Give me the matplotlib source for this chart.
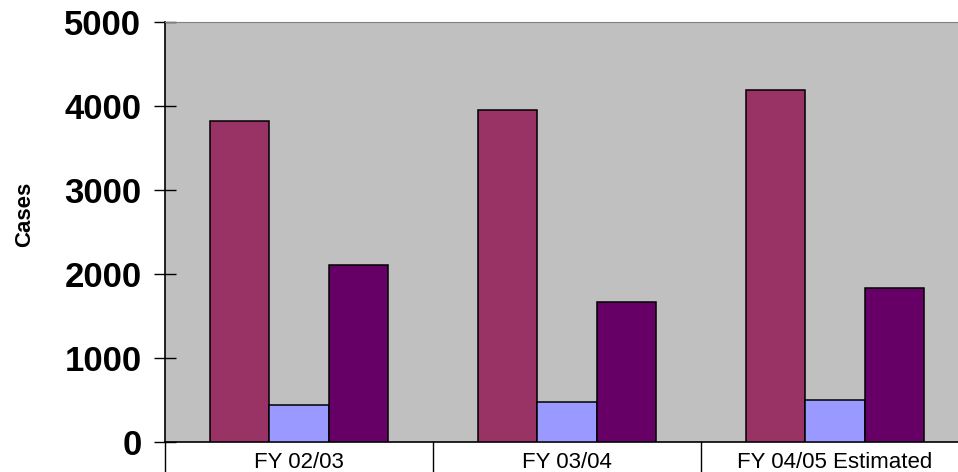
import numpy as np
import matplotlib
matplotlib.use("Agg")
import matplotlib.pyplot as plt
import matplotlib.transforms as mtransforms

plt.rcParams['font.family'] = ['Liberation Sans', 'DejaVu Sans']

categories = ['FY 02/03', 'FY 03/04', 'FY 04/05 Estimated']
series_a = [3825, 3952, 4190]
series_b = [444, 476, 500]
series_c = [2103, 1667, 1837]
yticks = [0, 1000, 2000, 3000, 4000, 5000]

colors = ['#993366', '#9999FF', '#660066']
W, H = 958, 472

fig = plt.figure(figsize=(W / 100, H / 100), dpi=100)
# plot area runs past the right edge of the picture (cropped original)
ax = fig.add_axes([165 / W, 30 / H, 804 / W, 420 / H])
ax.set_facecolor('#C0C0C0')

bw = 0.222
x = np.arange(len(categories)) + 0.5
for k, vals in enumerate([series_a, series_b, series_c]):
    ax.bar(x + (k - 1) * bw, vals, width=bw, color=colors[k],
           edgecolor='black', linewidth=1.1, zorder=3)

ax.set_xlim(0, 3)
ax.set_ylim(0, 5000)
ax.set_yticks(yticks)
ax.set_yticklabels([str(v) for v in yticks], fontsize=25, fontweight='bold')
ax.tick_params(axis='y', direction='inout', length=16, width=1, pad=9)
ax.set_xticks([])

for s in ['left', 'bottom']:
    ax.spines[s].set_color('black')
    ax.spines[s].set_linewidth(1.2)
ax.spines['top'].set_color('#808080')
ax.spines['right'].set_visible(False)

# category separators and labels below the axis
trans = mtransforms.blended_transform_factory(ax.transData, ax.transAxes)
for i in range(len(categories)):
    ax.plot([i, i], [0, -0.1], color='black', lw=1, transform=trans, clip_on=False)
    ax.text(x[i], -0.0627, categories[i], transform=trans, ha='center',
            va='baseline', fontsize=16)

fig.text(25 / W, 1 - 214.5 / H, 'Cases', rotation=90, ha='center', va='center',
         fontsize=16, fontweight='bold')

fig.savefig('out.png', dpi=100)
